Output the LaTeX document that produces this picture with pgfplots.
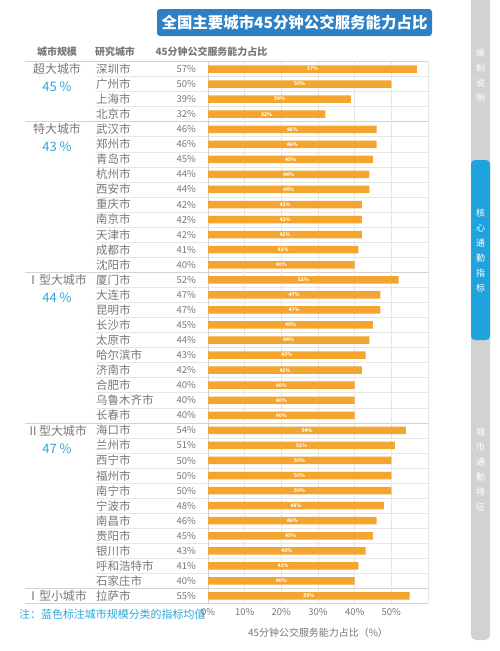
\documentclass[border=0pt]{standalone}
\usepackage{pgfplots}
\pgfplotsset{compat=1.18}
\usepackage{pgfplotstable}
\usepackage{fontspec}
\setmainfont{Noto Sans CJK SC}
\definecolor{barc}{HTML}{F4A52F}
\definecolor{txt}{HTML}{777777}
\definecolor{bluet}{HTML}{2AA6DA}
\definecolor{titleb}{HTML}{2D80C4}
\definecolor{sideg}{HTML}{D2D2D2}
\definecolor{sideb}{HTML}{1EA3DE}
\definecolor{linec}{HTML}{E6E6E6}
\pgfplotstableread{
i v
0 57
1 50
2 39
3 32
4 46
5 46
6 45
7 44
8 44
9 42
10 42
11 42
12 41
13 40
14 52
15 47
16 47
17 45
18 44
19 43
20 42
21 40
22 40
23 40
24 54
25 51
26 50
27 50
28 50
29 48
30 46
31 45
32 43
33 41
34 40
35 55
}\data
\begin{document}
\begin{tikzpicture}
\path[use as bounding box] (0,0) rectangle (500bp,-651bp);
% title
\fill[titleb, rounded corners=3bp] (157bp,-9bp) rectangle (432bp,-36bp);
\node[white, font=\fontsize{15.5}{16}\selectfont\bfseries] at (294.5bp,-22.5bp) {全国主要城市45分钟公交服务能力占比};
% sidebar
\fill[sideg, rounded corners=5bp] (471bp,5bp) rectangle (490bp,-640bp);
\fill[sideb, rounded corners=4bp] (471bp,-160bp) rectangle (490bp,-340bp);
\foreach \c [count=\k from 0] in {编,制,说,明} \node[white, font=\fontsize{9}{9}\selectfont] at (480.5bp,{-53bp-\k*15bp}) {\c};
\foreach \c [count=\k from 0] in {核,心,通,勤,指,标} \node[white, font=\fontsize{9}{9}\selectfont] at (480.5bp,{-213bp-\k*15bp}) {\c};
\foreach \c [count=\k from 0] in {城,市,通,勤,特,征} \node[white, font=\fontsize{9}{9}\selectfont] at (480.5bp,{-432bp-\k*15bp}) {\c};
% headers
\node[txt, font=\fontsize{10}{10}\selectfont\bfseries] at (57bp,-52bp) {城市规模};
\node[txt, font=\fontsize{10}{10}\selectfont\bfseries] at (115bp,-52bp) {研究城市};
\node[txt, font=\fontsize{10}{10}\selectfont\bfseries, anchor=west] at (152bp,-52bp) {45分钟公交服务能力占比};
% row lines
\foreach \k in {0,...,34} \draw[linec, line width=0.6bp] (95bp,{-69bp-(\k+0.5)*15.06bp}) -- (428bp,{-69bp-(\k+0.5)*15.06bp});
\foreach \k in {3,13,23,34} \draw[linec!80!gray, line width=0.6bp] (25bp,{-69bp-(\k+0.5)*15.06bp}) -- (428bp,{-69bp-(\k+0.5)*15.06bp});
\draw[linec!80!gray, line width=0.6bp] (25bp,-61.5bp) -- (428bp,-61.5bp);
\draw[linec, line width=0.6bp] (428bp,-61.5bp) -- (428bp,-603.5bp);
% city names and values
\foreach \c/\v [count=\k from 0] in {深圳市/57,广州市/50,上海市/39,北京市/32,武汉市/46,郑州市/46,青岛市/45,杭州市/44,西安市/44,重庆市/42,南京市/42,天津市/42,成都市/41,沈阳市/40,厦门市/52,大连市/47,昆明市/47,长沙市/45,太原市/44,哈尔滨市/43,济南市/42,合肥市/40,乌鲁木齐市/40,长春市/40,海口市/54,兰州市/51,西宁市/50,福州市/50,南宁市/50,宁波市/48,南昌市/46,贵阳市/45,银川市/43,呼和浩特市/41,石家庄市/40,拉萨市/55} {
  \node[txt, anchor=west, inner sep=0pt, font=\fontsize{11.5}{12}\selectfont] at (96bp,{-69bp-\k*15.06bp}) {\c};
  \node[txt, anchor=east, inner sep=0pt, font=\fontsize{9.5}{10}\selectfont] at (196bp,{-69bp-\k*15.06bp}) {\v\%};
}
% groups
\foreach \g/\m/\r in {超大城市/45 \%/0,特大城市/43 \%/4,Ⅰ型大城市/44 \%/14,Ⅱ型大城市/47 \%/24} {
  \node[txt, font=\fontsize{12}{12}\selectfont] at (57bp,{-69bp-\r*15.06bp}) {\g};
  \node[bluet, font=\fontsize{13}{13}\selectfont] at (57bp,{-87bp-\r*15.06bp}) {\m};
}
\node[txt, font=\fontsize{12}{12}\selectfont] at (57bp,{-69bp-35*15.06bp}) {Ⅰ型小城市};
\node[bluet, anchor=west, inner sep=0pt, font=\fontsize{11}{11}\selectfont] at (19bp,-614bp) {注：蓝色标注城市规模分类的指标均值};
\begin{axis}[at={(208bp,-61.5bp)}, anchor=north west, scale only axis,
  width=220bp, height=542bp, xmin=0, xmax=60, ymin=-0.5, ymax=35.5,
  y dir=reverse, axis y line*=left, axis x line*=bottom,
  axis line style={draw=linec!80!gray, line width=0.6bp},
  ytick=\empty, xtick={0,10,20,30,40,50},
  xticklabels={0\%,10\%,20\%,30\%,40\%,50\%},
  major tick length=0pt,
  xmajorgrids, grid style={draw=linec, line width=0.6bp},
  ticklabel style={font=\fontsize{9.5}{10}\selectfont, text=txt},
  xtick style={draw=none},
  xticklabel style={yshift=-1bp},
  xlabel={45分钟公交服务能力占比（\%）},
  xlabel style={font=\fontsize{10}{10}\selectfont, text=txt, yshift=-6bp},
  /pgf/number format/assume math mode=true,
  clip=false]
\addplot[xbar, bar width=7.5bp, fill=barc, draw=none] table[x=v, y=i] {\data};
\addplot[only marks, mark=none, point meta=\thisrow{v},
  nodes near coords={\pgfmathprintnumber{\pgfplotspointmeta}\%},
  nodes near coords style={anchor=center, white, font=\fontsize{5}{5}\selectfont\bfseries, inner sep=0pt}]
  table[x expr=\thisrow{v}/2, y=i] {\data};
\end{axis}
\draw[linec!80!gray, line width=0.6bp] (25bp,-603.5bp) -- (428bp,-603.5bp);
\end{tikzpicture}
\end{document}
